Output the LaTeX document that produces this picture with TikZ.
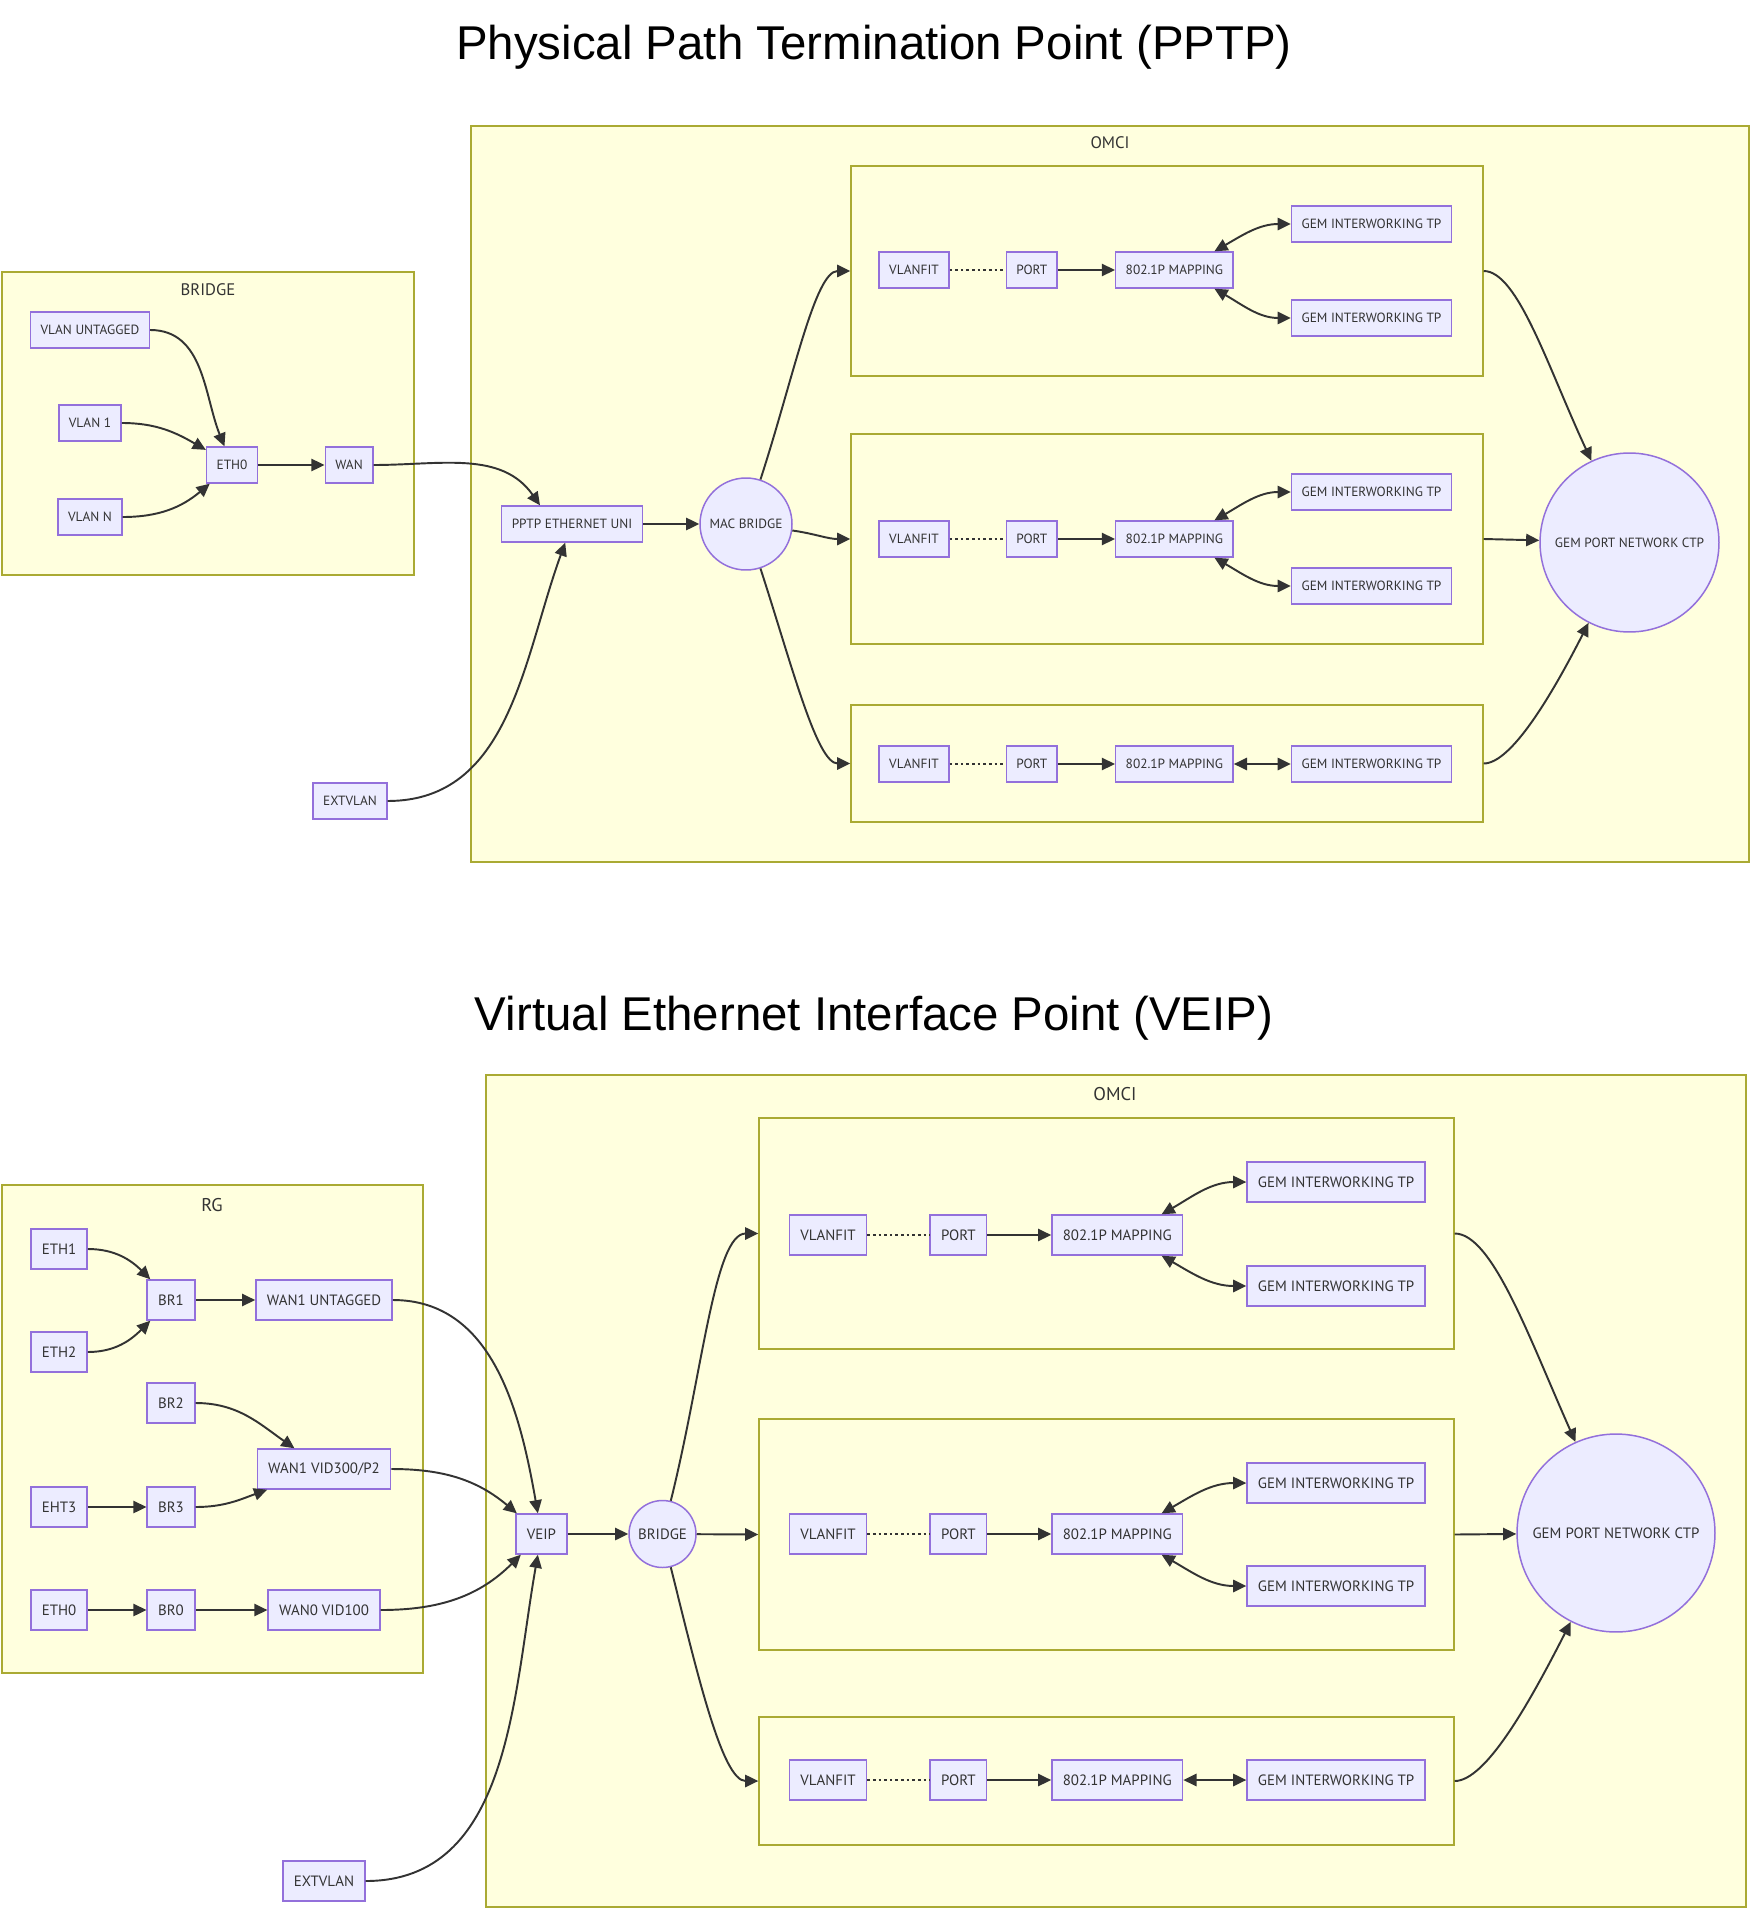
\documentclass[tikz,border=0pt]{standalone}
\usepackage{fontspec}
\setmainfont{Liberation Sans}
\newfontfamily\boxfont{PT Sans}
\usetikzlibrary{arrows.meta,positioning}
\definecolor{nodefill}{HTML}{ECECFF}
\definecolor{nodeline}{HTML}{9370DB}
\definecolor{groupfill}{HTML}{FFFFDE}
\definecolor{groupline}{HTML}{AAAA33}
\definecolor{ink}{HTML}{333333}

\begin{document}
\begin{tikzpicture}[
  x=0.02cm, y=-0.02cm, >={Triangle[length=7.5pt,width=7pt]},
  every node/.style={text=ink},
  box/.style={draw=nodeline, fill=nodefill, line width=0.85pt,
              font=\boxfont\fontsize{7.6}{9}\selectfont,
              minimum height=20.4pt, inner xsep=5.7pt, inner ysep=0pt},
  bigbox/.style={box, font=\boxfont\fontsize{8.5}{10}\selectfont,
                 minimum height=22.7pt, inner xsep=6.2pt},
  hub/.style={circle, draw=nodeline, fill=nodefill, line width=0.85pt,
              inner sep=0pt, font=\boxfont\fontsize{7.6}{9}\selectfont},
  bighub/.style={hub, font=\boxfont\fontsize{8.5}{10}\selectfont},
  group/.style={draw=groupline, fill=groupfill, line width=0.85pt, inner sep=0pt},
  grouplabel/.style={font=\boxfont\fontsize{9.5}{11}\selectfont},
  heading/.style={font=\fontsize{27}{32}\selectfont, text=black},
  link/.style={->, draw=ink, line width=1.1pt},
  both/.style={<->, draw=ink, line width=1.1pt},
  dots/.style={draw=ink, line width=1.1pt, dash pattern=on 1.5pt off 1.7pt},
  fanout/.style={out looseness=1.2, in looseness=0.4},
  fanin/.style={out looseness=0.4, in looseness=1.2}
]
  \useasboundingbox (0,0) rectangle (1750,1909);

  % ---------- PPTP ----------
  \node[heading] (pptptitle) at (874,47) {Physical Path Termination Point (PPTP)};

  \node[group, minimum width=8.24cm, minimum height=6.06cm] (bridgegrp) at (208,423.5) {};
  \node[grouplabel] (bridgelbl) at (208,290) {BRIDGE};
  \node[group, minimum width=25.56cm, minimum height=14.72cm] (omcia) at (1110,494) {};
  \node[grouplabel] (omcialbl) at (1110,143) {OMCI};
  \node[group, minimum width=12.64cm, minimum height=4.2cm] (ina) at (1167,271) {};
  \node[group, minimum width=12.64cm, minimum height=4.2cm] (inb) at (1167,539) {};
  \node[group, minimum width=12.64cm, minimum height=2.34cm] (inc) at (1167,763.5) {};

  \node[box] (vlanu) at (90,330) {VLAN UNTAGGED};
  \node[box] (vlan1) at (90,423) {VLAN 1};
  \node[box] (vlann) at (90,517) {VLAN N};
  \node[box] (eth0) at (232,465) {ETH0};
  \node[box] (wan) at (349,465) {WAN};
  \node[box] (pptp) at (572,524) {PPTP ETHERNET UNI};
  \node[box] (extvlan) at (350,801) {EXTVLAN};
  \node[hub, minimum size=1.84cm] (macbr) at (746,524) {MAC BRIDGE};
  \node[hub, minimum size=3.58cm] (ctp) at (1629.5,542.5) {GEM PORT NETWORK CTP};

  \node[box] (fita) at (914,270) {VLANFIT};
  \node[box, right=1.12cm of fita] (porta) {PORT};
  \node[box, right=1.14cm of porta] (mapa) {802.1P MAPPING};
  \node[box, right=1.14cm of mapa, yshift=0.92cm] (gemaa) {GEM INTERWORKING TP};
  \node[box, right=1.14cm of mapa, yshift=-0.96cm] (gemab) {GEM INTERWORKING TP};

  \node[box] (fitb) at (914,539) {VLANFIT};
  \node[box, right=1.12cm of fitb] (portb) {PORT};
  \node[box, right=1.14cm of portb] (mapb) {802.1P MAPPING};
  \node[box, right=1.14cm of mapb, yshift=0.94cm] (gemba) {GEM INTERWORKING TP};
  \node[box, right=1.14cm of mapb, yshift=-0.94cm] (gembb) {GEM INTERWORKING TP};

  \node[box] (fitc) at (914,764) {VLANFIT};
  \node[box, right=1.12cm of fitc] (portc) {PORT};
  \node[box, right=1.14cm of portc] (mapc) {802.1P MAPPING};
  \node[box, right=1.14cm of mapc] (gemc) {GEM INTERWORKING TP};

  \draw[link] (vlanu.east) to[out=0,in=112] (eth0);
  \draw[link] (vlan1.east) to[out=0,in=150] (eth0);
  \draw[link] (vlann.east) to[out=0,in=-140] (eth0);
  \draw[link] (eth0) -- (wan);
  \draw[link] (wan.east) to[out=0,in=125] ([xshift=-0.64cm]pptp.north);
  \draw[link] (extvlan.east) to[out=0,in=-110] (pptp);
  \draw[link] (pptp) -- (macbr);
  \draw[link, fanout] (macbr) to[out=72,in=180] (ina.west);
  \draw[link] (macbr) to[out=-8,in=180] (inb.west);
  \draw[link, fanout] (macbr) to[out=-72,in=180] (inc.west);

  \draw[dots] (fita) -- (porta);
  \draw[link] (porta) -- (mapa);
  \draw[both] (mapa.25) to[out=30,in=180] (gemaa.west);
  \draw[both] (mapa.-25) to[out=-30,in=180] (gemab.west);
  \draw[dots] (fitb) -- (portb);
  \draw[link] (portb) -- (mapb);
  \draw[both] (mapb.25) to[out=30,in=180] (gemba.west);
  \draw[both] (mapb.-25) to[out=-30,in=180] (gembb.west);
  \draw[dots] (fitc) -- (portc);
  \draw[link] (portc) -- (mapc);
  \draw[both] (mapc) -- (gemc);

  \draw[link, fanin] (ina.east) to[out=0,in=115] (ctp);
  \draw[link] (inb.east) -- (ctp);
  \draw[link, fanin] (inc.east) to[out=0,in=-117] (ctp);

  % ---------- VEIP ----------
  \node[heading] (veiptitle) at (874,1018) {Virtual Ethernet Interface Point (VEIP)};

  \node[group, minimum width=8.42cm, minimum height=9.76cm] (rggrp) at (212.5,1429) {};
  \node[grouplabel, font=\boxfont\fontsize{10.5}{12}\selectfont] (rglbl) at (212,1205) {RG};
  \node[group, minimum width=25.2cm, minimum height=16.64cm] (omcib) at (1116,1491) {};
  \node[grouplabel, font=\boxfont\fontsize{10.5}{12}\selectfont] (omciblbl) at (1115,1094) {OMCI};
  \node[group, minimum width=13.9cm, minimum height=4.62cm] (vina) at (1106.5,1233.5) {};
  \node[group, minimum width=13.9cm, minimum height=4.62cm] (vinb) at (1106.5,1534.5) {};
  \node[group, minimum width=13.9cm, minimum height=2.56cm] (vinc) at (1106.5,1781) {};

  \node[bigbox] (eth1) at (59,1249) {ETH1};
  \node[bigbox] (eth2) at (59,1352) {ETH2};
  \node[bigbox] (br1) at (171,1300) {BR1};
  \node[bigbox] (wanu) at (324,1300) {WAN1 UNTAGGED};
  \node[bigbox] (br2) at (171,1403) {BR2};
  \node[bigbox] (wanv) at (324,1469) {WAN1 VID300/P2};
  \node[bigbox] (eht3) at (59,1507) {EHT3};
  \node[bigbox] (br3) at (171,1507) {BR3};
  \node[bigbox] (ethz) at (59,1610) {ETH0};
  \node[bigbox] (br0) at (171,1610) {BR0};
  \node[bigbox] (wanz) at (324,1610) {WAN0 VID100};
  \node[bigbox] (extvlanb) at (324,1881) {EXTVLAN};
  \node[bigbox] (veip) at (541.5,1534) {VEIP};
  \node[bighub, minimum size=1.34cm] (bridge) at (662.5,1534) {BRIDGE};
  \node[bighub, minimum size=3.96cm] (ctpb) at (1616,1533) {GEM PORT NETWORK CTP};

  \node[bigbox] (vfita) at (828,1235) {VLANFIT};
  \node[bigbox, right=1.24cm of vfita] (vporta) {PORT};
  \node[bigbox, right=1.28cm of vporta] (vmapa) {802.1P MAPPING};
  \node[bigbox, right=1.26cm of vmapa, yshift=1.06cm] (vgemaa) {GEM INTERWORKING TP};
  \node[bigbox, right=1.26cm of vmapa, yshift=-1.02cm] (vgemab) {GEM INTERWORKING TP};

  \node[bigbox] (vfitb) at (828,1534) {VLANFIT};
  \node[bigbox, right=1.24cm of vfitb] (vportb) {PORT};
  \node[bigbox, right=1.28cm of vportb] (vmapb) {802.1P MAPPING};
  \node[bigbox, right=1.26cm of vmapb, yshift=1.02cm] (vgemba) {GEM INTERWORKING TP};
  \node[bigbox, right=1.26cm of vmapb, yshift=-1.04cm] (vgembb) {GEM INTERWORKING TP};

  \node[bigbox] (vfitc) at (828,1780) {VLANFIT};
  \node[bigbox, right=1.24cm of vfitc] (vportc) {PORT};
  \node[bigbox, right=1.28cm of vportc] (vmapc) {802.1P MAPPING};
  \node[bigbox, right=1.26cm of vmapc] (vgemc) {GEM INTERWORKING TP};

  \draw[link] (eth1.east) to[out=0,in=135] (br1);
  \draw[link] (eth2.east) to[out=0,in=-135] (br1);
  \draw[link] (br1) -- (wanu);
  \draw[link] (br2.east) to[out=0,in=145] (wanv);
  \draw[link] (eht3) -- (br3);
  \draw[link] (br3.east) to[out=0,in=-160] (wanv);
  \draw[link] (ethz) -- (br0);
  \draw[link] (br0) -- (wanz);
  \draw[link] (wanu.east) to[out=0,in=100] (veip);
  \draw[link] (wanv.east) to[out=0,in=140] (veip);
  \draw[link] (wanz.east) to[out=0,in=-135] (veip);
  \draw[link] (extvlanb.east) to[out=0,in=-100] (veip);
  \draw[link] (veip) -- (bridge);
  \draw[link, fanout] (bridge) to[out=76,in=180] (vina.west);
  \draw[link] (bridge) -- (vinb.west);
  \draw[link, fanout] (bridge) to[out=-76,in=180] (vinc.west);

  \draw[dots] (vfita) -- (vporta);
  \draw[link] (vporta) -- (vmapa);
  \draw[both] (vmapa.25) to[out=30,in=180] (vgemaa.west);
  \draw[both] (vmapa.-25) to[out=-30,in=180] (vgemab.west);
  \draw[dots] (vfitb) -- (vportb);
  \draw[link] (vportb) -- (vmapb);
  \draw[both] (vmapb.25) to[out=30,in=180] (vgemba.west);
  \draw[both] (vmapb.-25) to[out=-30,in=180] (vgembb.west);
  \draw[dots] (vfitc) -- (vportc);
  \draw[link] (vportc) -- (vmapc);
  \draw[both] (vmapc) -- (vgemc);

  \draw[link, fanin] (vina.east) to[out=0,in=114] (ctpb);
  \draw[link] (vinb.east) -- (ctpb);
  \draw[link, fanin] (vinc.east) to[out=0,in=-117] (ctpb);
\end{tikzpicture}
\end{document}
